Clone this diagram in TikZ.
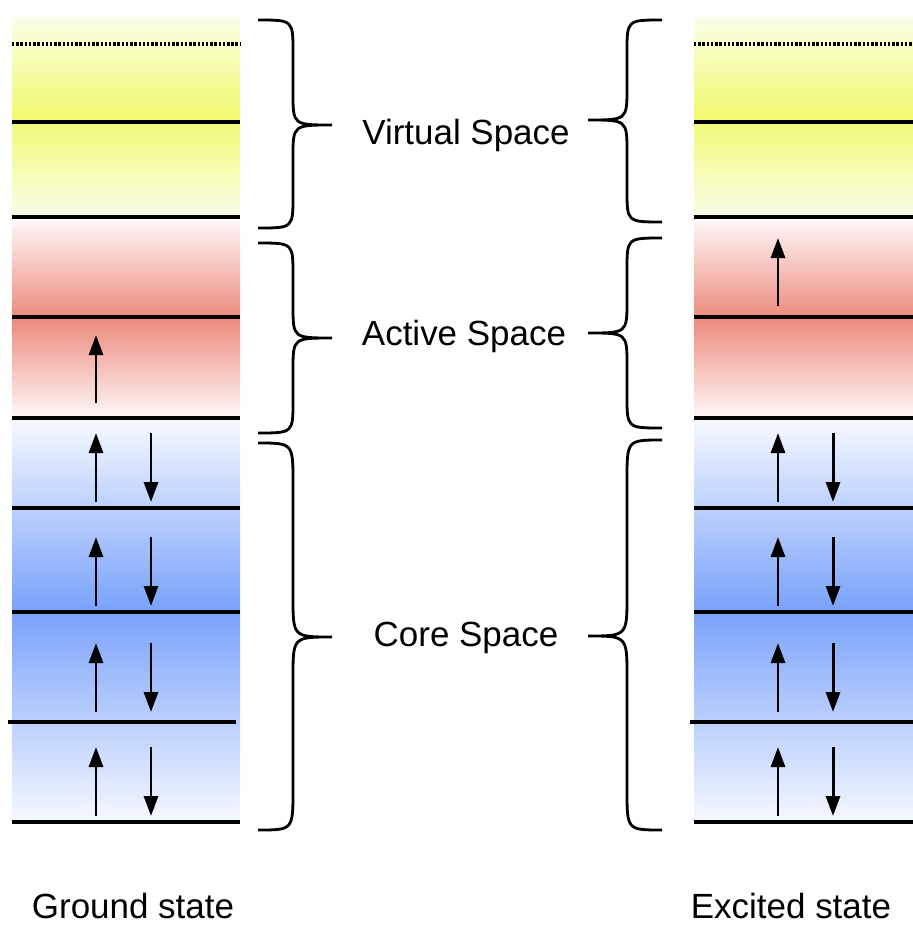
\documentclass[tikz,border=0pt]{standalone}
\usepackage{fontspec}
\setmainfont{Liberation Sans}
\usetikzlibrary{arrows.meta}
\definecolor{virtpeak}{RGB}{240,250,112}
\definecolor{virtpale}{RGB}{251,253,233}
\definecolor{actpeak}{RGB}{236,138,124}
\definecolor{actpale}{RGB}{254,248,247}
\definecolor{corepeak}{RGB}{122,162,250}
\definecolor{corepale}{RGB}{245,248,255}

\begin{document}
\begin{tikzpicture}[
  x=0.02cm, y=-0.02cm,
  level/.style={draw=black, line width=2pt},
  virtlevel/.style={draw=black, line width=2.2pt, dash pattern=on 1.4pt off 1pt},
  brace/.style={draw=black, line width=1.6pt},
  spin/.style={draw=black, line width=1.7pt, -{Triangle[length=0.4cm, width=0.28cm]}},
  lbl/.style={font=\fontsize{19.9}{24}\selectfont, anchor=base, inner sep=0pt}
]
\useasboundingbox (0,0) rectangle (913,927);

% ---- shaded bands, both columns
\foreach \xl/\xr in {12/240, 694/913} {
  \foreach \ya/\yb/\ct/\cb in {17/115/virtpale/virtpeak, 115/217/virtpeak/virtpale,
                               219/318/actpale/actpeak, 318/418/actpeak/actpale,
                               420/610/corepale/corepeak, 610/822/corepeak/corepale}
    \shade[top color=\ct, bottom color=\cb] (\xl,\ya) rectangle (\xr,\yb);
}

% ---- orbital levels
\draw[virtlevel] (12,44) -- (240,44);
\draw[virtlevel] (694,44) -- (913,44);
\foreach \y in {122,217,317,418,508,612,822} {
  \draw[level] (12,\y) -- (240,\y);
  \draw[level] (694,\y) -- (913,\y);
}
\draw[level] (8,722) -- (236,722);
\draw[level] (690,722) -- (913,722);

% ---- electrons
\foreach \y in {433,537,643,747} {
  \draw[spin] (96,\y+69) -- (96,\y);
  \draw[spin] (151,\y) -- (151,\y+69);
  \draw[spin] (778,\y+69) -- (778,\y);
  \draw[spin] (833,\y) -- (833,\y+69);
}
\draw[spin] (96,403) -- (96,335);
\draw[spin] (778,306) -- (778,238);

% ---- braces
\foreach \xa/\s/\yt/\ym/\yb/\r in {258/1/20/125/228/32, 258/1/243/338/433/32,
                                   258/1/443/637/830/40, 662/-1/20/120/222/32,
                                   662/-1/238/333/428/32, 662/-1/440/636/830/40}
  \draw[brace] (\xa,\yt) .. controls ({\xa+\s*35},\yt) .. ({\xa+\s*35},{\yt+\r})
    -- ({\xa+\s*35},{\ym-\r}) .. controls ({\xa+\s*35},\ym) .. ({\xa+\s*74},\ym)
    .. controls ({\xa+\s*35},\ym) .. ({\xa+\s*35},{\ym+\r})
    -- ({\xa+\s*35},{\yb-\r}) .. controls ({\xa+\s*35},\yb) .. (\xa,\yb);

% ---- labels
\node[lbl] (virt) at (466,144) {Virtual Space};
\node[lbl] (act) at (464,345) {Active Space};
\node[lbl] (core) at (466,646) {Core Space};
\node[lbl] (gs) at (133,918) {Ground state};
\node[lbl] (es) at (791,918) {Excited state};
\end{tikzpicture}
\end{document}
